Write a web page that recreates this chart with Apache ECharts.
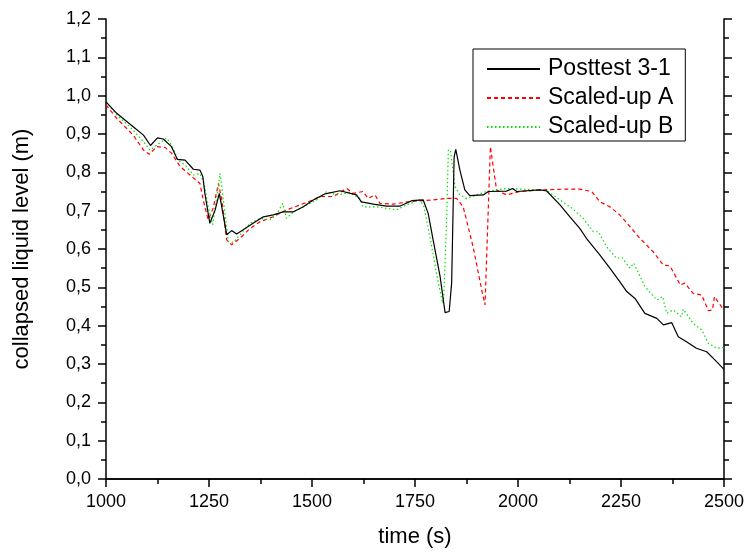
<!DOCTYPE html>
<html>
<head>
<meta charset="utf-8">
<script src="https://cdn.jsdelivr.net/npm/echarts@6/dist/echarts.min.js"></script>
<style>
  html, body { margin: 0; padding: 0; background: #fff; }
  #chart { width: 747px; height: 556px; }
</style>
</head>
<body>
<div id="chart"></div>
<script>
// values
var seriesNames = ['Posttest 3-1', 'Scaled-up A', 'Scaled-up B'];

var postT = [1000, 1026, 1066, 1091, 1108, 1125, 1139, 1159, 1173, 1192, 1212, 1228, 1235, 1240, 1252, 1265, 1275, 1281, 1293, 1305, 1317, 1333, 1357, 1382, 1406, 1430, 1455, 1479, 1503, 1532, 1568, 1608, 1620, 1649, 1681, 1714, 1742, 1770, 1782, 1794, 1811, 1823, 1833, 1839, 1845, 1849, 1859, 1871, 1883, 1916, 1928, 1972, 1987, 1997, 2053, 2069, 2102, 2126, 2150, 2166, 2199, 2223, 2247, 2264, 2284, 2308, 2337, 2353, 2373, 2389, 2409, 2433, 2458, 2482, 2500];
var postV = [0.984, 0.954, 0.919, 0.897, 0.870, 0.890, 0.887, 0.867, 0.834, 0.832, 0.808, 0.806, 0.789, 0.745, 0.667, 0.702, 0.745, 0.710, 0.637, 0.648, 0.639, 0.650, 0.667, 0.684, 0.689, 0.697, 0.697, 0.710, 0.728, 0.744, 0.752, 0.741, 0.723, 0.717, 0.712, 0.712, 0.726, 0.728, 0.693, 0.624, 0.528, 0.434, 0.437, 0.511, 0.840, 0.860, 0.806, 0.754, 0.739, 0.741, 0.750, 0.751, 0.758, 0.750, 0.754, 0.752, 0.715, 0.684, 0.654, 0.628, 0.584, 0.550, 0.515, 0.489, 0.471, 0.432, 0.419, 0.402, 0.408, 0.371, 0.358, 0.341, 0.332, 0.306, 0.286];

var aT = [1000, 1026, 1066, 1091, 1105, 1123, 1143, 1159, 1180, 1204, 1228, 1236, 1248, 1260, 1273, 1281, 1293, 1305, 1325, 1350, 1374, 1406, 1438, 1471, 1503, 1519, 1552, 1584, 1600, 1624, 1636, 1653, 1665, 1697, 1738, 1794, 1827, 1851, 1867, 1891, 1912, 1920, 1933, 1948, 1972, 2005, 2053, 2110, 2150, 2179, 2199, 2223, 2247, 2272, 2296, 2328, 2353, 2369, 2394, 2405, 2425, 2446, 2462, 2472, 2477, 2488, 2500];
var aV = [0.976, 0.941, 0.897, 0.858, 0.847, 0.867, 0.865, 0.850, 0.815, 0.793, 0.771, 0.728, 0.676, 0.706, 0.771, 0.728, 0.624, 0.611, 0.628, 0.654, 0.671, 0.684, 0.702, 0.715, 0.728, 0.737, 0.737, 0.758, 0.745, 0.750, 0.732, 0.741, 0.719, 0.717, 0.724, 0.728, 0.732, 0.732, 0.710, 0.606, 0.493, 0.454, 0.867, 0.754, 0.741, 0.750, 0.754, 0.756, 0.756, 0.750, 0.723, 0.710, 0.689, 0.658, 0.628, 0.593, 0.558, 0.556, 0.506, 0.511, 0.484, 0.480, 0.439, 0.441, 0.476, 0.458, 0.441];

var bT = [1000, 1026, 1066, 1091, 1107, 1123, 1147, 1159, 1175, 1196, 1212, 1228, 1238, 1248, 1259, 1270, 1277, 1283, 1297, 1309, 1325, 1350, 1374, 1398, 1414, 1429, 1438, 1455, 1479, 1511, 1536, 1560, 1592, 1616, 1624, 1657, 1681, 1705, 1730, 1762, 1772, 1786, 1802, 1817, 1820, 1827, 1831, 1836, 1847, 1859, 1875, 1899, 1924, 1972, 2053, 2073, 2102, 2134, 2158, 2183, 2195, 2215, 2239, 2252, 2272, 2281, 2308, 2337, 2351, 2361, 2377, 2397, 2401, 2425, 2446, 2462, 2482, 2500];
var bV = [0.984, 0.950, 0.910, 0.880, 0.858, 0.871, 0.889, 0.871, 0.832, 0.815, 0.793, 0.797, 0.771, 0.710, 0.663, 0.745, 0.797, 0.745, 0.619, 0.617, 0.637, 0.667, 0.680, 0.676, 0.691, 0.719, 0.680, 0.697, 0.710, 0.728, 0.750, 0.741, 0.747, 0.732, 0.710, 0.710, 0.706, 0.702, 0.715, 0.728, 0.710, 0.632, 0.537, 0.458, 0.476, 0.684, 0.858, 0.858, 0.763, 0.741, 0.732, 0.741, 0.750, 0.758, 0.754, 0.750, 0.728, 0.704, 0.680, 0.645, 0.645, 0.606, 0.576, 0.578, 0.550, 0.563, 0.502, 0.467, 0.476, 0.432, 0.441, 0.423, 0.443, 0.406, 0.389, 0.354, 0.341, 0.343];

function pairs(t, v) {
  return t.map(function (x, i) { return [x, v[i]]; });
}

var font = '"Liberation Sans", Arial, sans-serif';
var chart = echarts.init(document.getElementById('chart'));

var option = {
  backgroundColor: '#fff',
  animation: false,
  textStyle: { fontFamily: font, color: '#000' },
  grid: { left: 106, right: 23, top: 19, bottom: 77 },
  legend: {
    orient: 'vertical',
    left: 473,
    top: 49,
    padding: [8, 12, 2, 13],
    itemWidth: 53,
    itemHeight: 12,
    itemGap: 5,
    borderColor: '#000',
    borderWidth: 1,
    itemStyle: { opacity: 0 },
    textStyle: { fontFamily: font, fontSize: 23, color: '#000', padding: [0, 0, 0, 3], lineHeight: 24 },
    data: seriesNames
  },
  xAxis: [{
    type: 'value',
    min: 1000, max: 2500, interval: 250,
    name: 'time (s)',
    nameLocation: 'middle',
    nameGap: 47,
    nameTextStyle: { fontFamily: font, fontSize: 22, color: '#000' },
    axisLine: { lineStyle: { color: '#000', width: 1.5 } },
    axisTick: { inside: false, length: 8, lineStyle: { color: '#000', width: 1.5 } },
    minorTick: { show: true, splitNumber: 2, length: 5, lineStyle: { color: '#000', width: 1.5 } },
    axisLabel: {
      fontFamily: font, fontSize: 18, color: '#000', margin: 14,
      formatter: function (v) { return String(v); }
    },
    splitLine: { show: false }
  }, {
    type: 'value',
    position: 'top',
    min: 1000, max: 2500, interval: 250,
    axisLine: { show: true, lineStyle: { color: '#000', width: 1.5 } },
    axisTick: { show: false },
    axisLabel: { show: false },
    splitLine: { show: false }
  }],
  yAxis: [{
    type: 'value',
    min: 0, max: 1.2, interval: 0.1,
    name: 'collapsed liquid level (m)',
    nameLocation: 'middle',
    nameGap: 73,
    nameTextStyle: { fontFamily: font, fontSize: 22, color: '#000' },
    axisLine: { show: true, lineStyle: { color: '#000', width: 1.5 } },
    axisTick: { inside: false, length: 8, lineStyle: { color: '#000', width: 1.5 } },
    minorTick: { show: true, splitNumber: 2, length: 5, lineStyle: { color: '#000', width: 1.5 } },
    axisLabel: {
      fontFamily: font, fontSize: 18, color: '#000', margin: 15,
      formatter: function (v) { return v.toFixed(1).replace('.', ','); }
    },
    splitLine: { show: false }
  }, {
    type: 'value',
    position: 'right',
    min: 0, max: 1.2, interval: 0.1,
    axisLine: { show: true, lineStyle: { color: '#000', width: 1.5 } },
    axisTick: { inside: false, length: 8, lineStyle: { color: '#000', width: 1.5 } },
    minorTick: { show: true, splitNumber: 2, length: 5, lineStyle: { color: '#000', width: 1.5 } },
    axisLabel: { show: false },
    splitLine: { show: false }
  }],
  series: [{
    name: seriesNames[0],
    type: 'line',
    symbol: 'none',
    z: 3,
    color: '#000',
    lineStyle: { color: '#000', width: 1.2, type: 'solid' },
    data: pairs(postT, postV)
  }, {
    name: seriesNames[1],
    type: 'line',
    symbol: 'none',
    z: 2,
    color: '#ff0000',
    lineStyle: { color: '#ff0000', width: 1.2, type: [4, 3] },
    data: pairs(aT, aV)
  }, {
    name: seriesNames[2],
    type: 'line',
    symbol: 'none',
    z: 2,
    color: '#00e000',
    lineStyle: { color: '#00e000', width: 1.2, type: [1.5, 2.5] },
    data: pairs(bT, bV)
  }]
};

chart.setOption(option);
</script>
</body>
</html>
